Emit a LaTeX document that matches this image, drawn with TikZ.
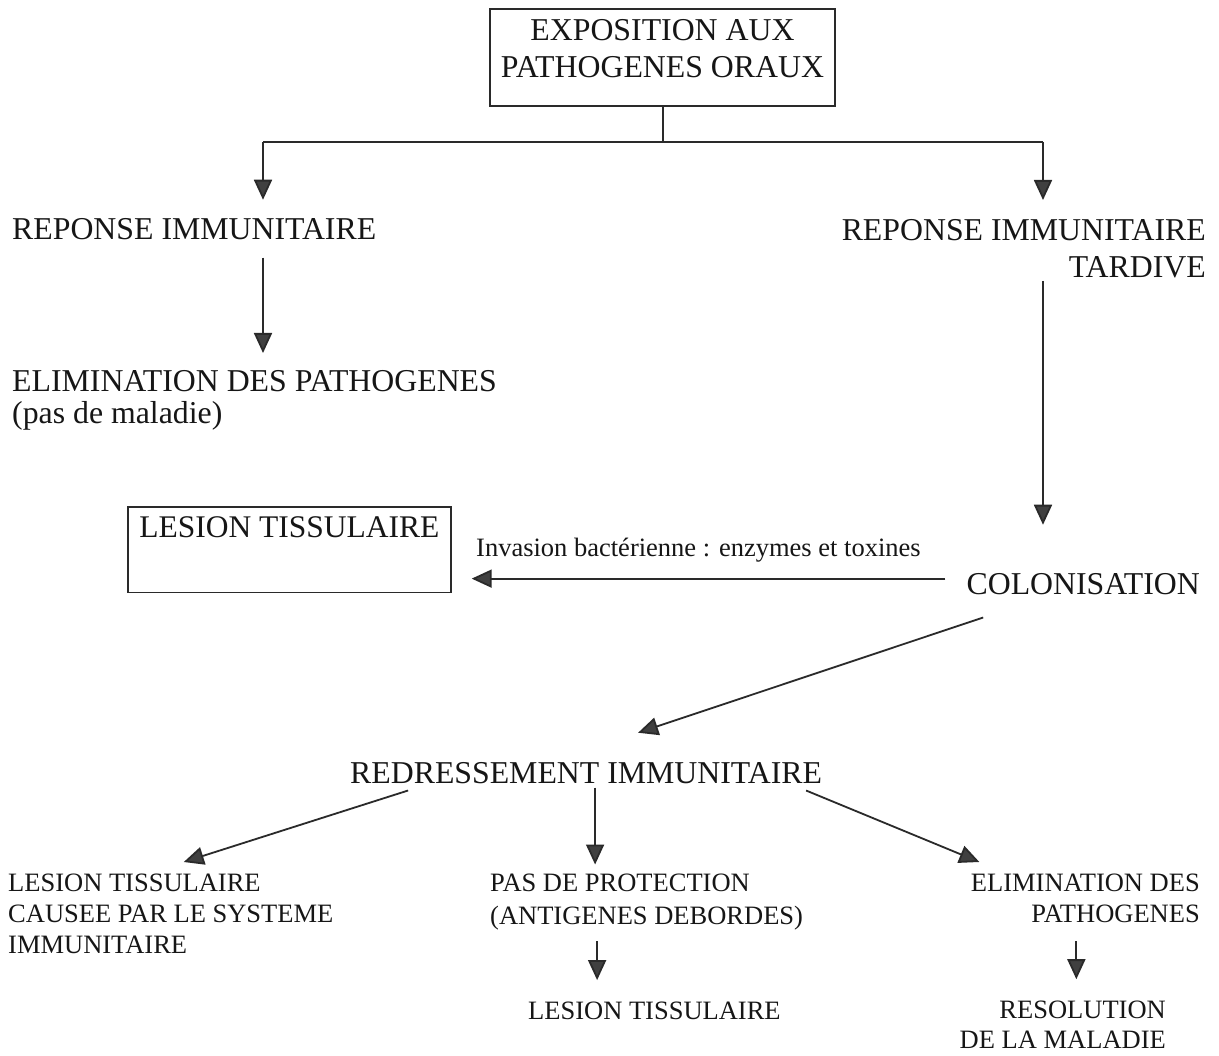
\documentclass[tikz,border=0pt]{standalone}
\usepackage{fontspec}
\setmainfont{Liberation Serif}
\usetikzlibrary{arrows.meta,calc}
\definecolor{txt}{HTML}{161616}
\definecolor{ln}{HTML}{2A2A2A}
\definecolor{hd}{HTML}{404040}
\begin{document}
\begin{tikzpicture}[x=1pt,y=-1pt,
  big/.style={inner sep=0pt, font=\fontsize{31.8}{37}\selectfont, text=txt},
  small/.style={inner sep=0pt, font=\fontsize{26.5}{31}\selectfont, text=txt},
  boxed/.style={draw=ln, line width=1.6pt},
  link/.style={draw=ln, line width=1.8pt},
  arr/.style={link, -{Triangle[length=20pt,width=18pt,fill=hd]}},
]
\fill[white] (0,0) rectangle (1219,1056);
\useasboundingbox (0,0) rectangle (1219,1056);

% nodes
\node[big, boxed, align=center, minimum width=345pt, inner ysep=11pt, anchor=north] (expo) at (662.5,8)
  {EXPOSITION AUX\\PATHOGENES ORAUX\\[-20pt]\mbox{}};
\node[big, anchor=base west] (rep) at (12,240) {REPONSE IMMUNITAIRE};
\node[big, font=\fontsize{31.8}{32}\selectfont, align=left, anchor=north west] (elim) at (12,370)
  {ELIMINATION DES PATHOGENES\\(pas de maladie)};
\node[big, align=right, anchor=north east] (rept) at (1206,219) {REPONSE IMMUNITAIRE\\TARDIVE};
\node[big, anchor=base east] (colo) at (1200,594) {COLONISATION};
\node[big, font=\fontsize{31.5}{37}\selectfont, boxed, align=left, inner xsep=11.5pt, inner ysep=10pt, anchor=north west] (lesbox) at (127,506)
  {LESION TISSULAIRE\\[8pt]\mbox{}};
\node[small, anchor=base west] (inv) at (476,556) {Invasion bactérienne : enzymes et toxines};
\node[big, anchor=base west] (redr) at (350,783) {REDRESSEMENT IMMUNITAIRE};
\node[small, align=left, anchor=north west] (lt1) at (8,874)
  {LESION TISSULAIRE\\CAUSEE PAR LE SYSTEME\\IMMUNITAIRE};
\node[small, font=\fontsize{26.5}{33}\selectfont, align=left, anchor=north west] (pdp) at (490,874)
  {PAS DE PROTECTION\\(ANTIGENES DEBORDES)};
\node[small, anchor=base west] (lt2) at (528,1019) {LESION TISSULAIRE};
\node[small, align=right, anchor=north east] (elp) at (1200,874) {ELIMINATION DES\\PATHOGENES};
\node[small, font=\fontsize{26.5}{30}\selectfont, align=right, anchor=north east] (res) at (1166,1001)
  {RESOLUTION\\DE LA MALADIE};

% connectors
\coordinate (jn) at (663,142);
\coordinate (jl) at (263,142);
\coordinate (jr) at (1043,142);
\draw[link] (expo.south -| jn) -- (jn);
\draw[link] (jl) -- (jr);
\draw[arr] (jl) -- ($(jl |- rep.north)+(0,-19)$);
\draw[arr] (jr) -- ($(jr |- rept.north)+(0,-19)$);
\draw[arr] ($(jl |- rep.south)+(0,17)$) -- ($(jl |- elim.north)+(0,-17)$);
\draw[arr] ($(jr |- rept.south)+(0,3)$) -- ($(jr |- colo.north)+(0,-48)$);
\draw[arr] ($(colo.west)+(-21,-5)$) -- ($(lesbox.east |- colo.west)+(20,-5)$);
\draw[arr] ($(colo.south)+(-100,23)$) -- ($(redr.north)+(52,-29)$);
\draw[arr] ($(redr.south)+(-178,7)$) -- ($(lt1.north)+(13,-12)$);
\draw[arr] ($(redr.south)+(9,4)$) -- ($(redr.south)+(9,81)$);
\draw[arr] ($(redr.south)+(220,7)$) -- ($(elp.north)+(-106,-12)$);
\draw[arr] ($(pdp.south)+(-49.5,10.5)$) -- ($(pdp.south)+(-49.5,49.5)$);
\draw[arr] ($(elp.south)+(-9,18)$) -- ($(elp.south)+(-9,56)$);
\end{tikzpicture}
\end{document}
